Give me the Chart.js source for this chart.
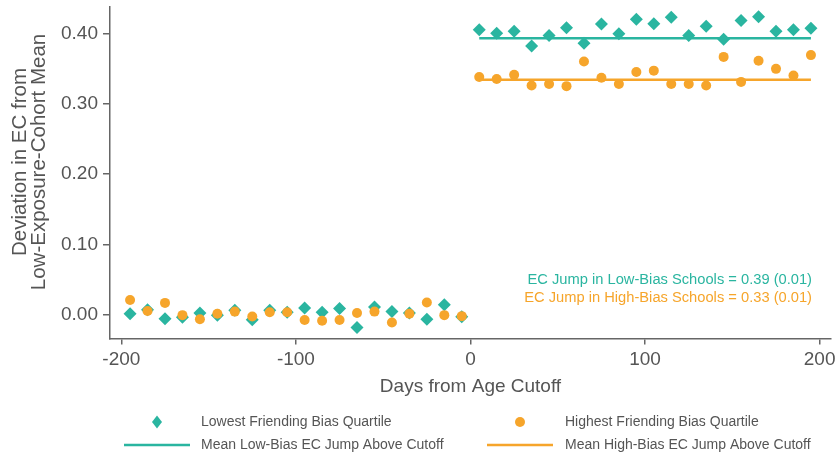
<!DOCTYPE html>
<html>
<head>
<meta charset="utf-8">
<script src="https://cdn.jsdelivr.net/npm/chart.js@4"></script>
<style>
  html, body { margin: 0; padding: 0; background: #fff; }
  #wrap { width: 839px; height: 457px; }
</style>
</head>
<body>
<div id="wrap"><canvas id="myChart"></canvas></div>
<script>
const CHART = document.getElementById("myChart");

// days from cutoff (bins of 10 days)
const daysBelow = [-195,-185,-175,-165,-155,-145,-135,-125,-115,-105,-95,-85,-75,-65,-55,-45,-35,-25,-15,-5];
const daysAbove = [5,15,25,35,45,55,65,75,85,95,105,115,125,135,145,155,165,175,185,195];

// lowest friending bias quartile
const lowBelow = [0.002,0.0075,-0.005,-0.003,0.003,0.000,0.007,-0.0066,0.007,0.004,0.0103,0.004,0.0094,-0.0175,0.0117,0.005,0.003,-0.006,0.0146,-0.0024];
const lowAbove = [0.405,0.400,0.403,0.382,0.397,0.408,0.386,0.413,0.3995,0.420,0.4136,0.4226,0.397,0.410,0.3915,0.418,0.4235,0.403,0.405,0.407];

// highest friending bias quartile
const highBelow = [0.0216,0.006,0.0174,0.000,-0.0057,0.002,0.005,-0.002,0.004,0.004,-0.007,-0.008,-0.007,0.003,0.005,-0.0105,0.002,0.018,0.000,-0.0014];
const highAbove = [0.338,0.335,0.341,0.326,0.328,0.325,0.360,0.337,0.328,0.345,0.347,0.328,0.328,0.326,0.3665,0.331,0.361,0.3495,0.340,0.369];

// mean jump lines above the cutoff
const meanX = [5,195];
const lowMean = [0.393,0.393];
const highMean = [0.334,0.334];

const xTicks = [-200,-100,0,100,200];
const yTicks = [0,0.1,0.2,0.3,0.4];

const labels = ['Lowest Friending Bias Quartile','Highest Friending Bias Quartile',
                'Mean Low-Bias EC Jump Above Cutoff','Mean High-Bias EC Jump Above Cutoff'];
const notes = ['EC Jump in Low-Bias Schools = 0.39 (0.01)','EC Jump in High-Bias Schools = 0.33 (0.01)'];

const TEAL = '#2ab5a0';
const ORANGE = '#f6a52b';
const TXT = '#555555';
const FONT = "'Liberation Sans', Arial, Helvetica, sans-serif";

function pts(xs, ys){ return xs.map((x,i)=>({x:x, y:ys[i]})); }

// legend, y title and jump notes
const extras = {
  id: 'extras',
  afterDraw(chart){
    const ctx = chart.ctx;
    ctx.save();
    // y title
    ctx.fillStyle = TXT;
    ctx.font = "20.5px " + FONT;
    ctx.textAlign = 'center';
    ctx.textBaseline = 'middle';
    ctx.translate(30, 162);
    ctx.rotate(-Math.PI/2);
    ctx.fillText('Deviation in EC from', 0, -10);
    ctx.fillText('Low-Exposure-Cohort Mean', 0, 9.5);
    ctx.restore();

    // notes
    ctx.save();
    ctx.font = "14.7px " + FONT;
    ctx.textAlign = 'right';
    ctx.textBaseline = 'middle';
    ctx.fillStyle = TEAL;
    ctx.fillText(notes[0], 812, 280);
    ctx.fillStyle = ORANGE;
    ctx.fillText(notes[1], 812, 298);
    ctx.restore();

    // legend
    ctx.save();
    ctx.font = "14px " + FONT;
    ctx.textAlign = 'left';
    ctx.textBaseline = 'middle';
    const marks = [157, 520];
    const textX = [201, 565];
    const rows = [422, 445];
    // diamond
    ctx.fillStyle = TEAL;
    ctx.beginPath();
    ctx.moveTo(marks[0], rows[0]-6.5); ctx.lineTo(marks[0]+5, rows[0]);
    ctx.lineTo(marks[0], rows[0]+6.5); ctx.lineTo(marks[0]-5, rows[0]);
    ctx.closePath(); ctx.fill();
    // circle
    ctx.fillStyle = ORANGE;
    ctx.beginPath(); ctx.arc(marks[1], rows[0], 5, 0, Math.PI*2); ctx.fill();
    // lines
    ctx.lineWidth = 2.5;
    ctx.strokeStyle = TEAL;
    ctx.beginPath(); ctx.moveTo(marks[0]-33, rows[1]); ctx.lineTo(marks[0]+33, rows[1]); ctx.stroke();
    ctx.strokeStyle = ORANGE;
    ctx.beginPath(); ctx.moveTo(marks[1]-33, rows[1]); ctx.lineTo(marks[1]+33, rows[1]); ctx.stroke();
    ctx.fillStyle = TXT;
    ctx.fillText(labels[0], textX[0], rows[0]);
    ctx.fillText(labels[1], textX[1], rows[0]);
    ctx.fillText(labels[2], textX[0], rows[1]);
    ctx.fillText(labels[3], textX[1], rows[1]);
    ctx.restore();
  }
};

let chart = new Chart(CHART, {
  type: 'scatter',
  data: {
    datasets: [
      {
        label: labels[1],
        data: pts(daysBelow, highBelow).concat(pts(daysAbove, highAbove)),
        pointStyle: 'circle',
        pointRadius: 5,
        pointHoverRadius: 5,
        backgroundColor: ORANGE,
        borderWidth: 0,
        order: 2
      },
      {
        label: labels[0],
        data: pts(daysBelow, lowBelow).concat(pts(daysAbove, lowAbove)),
        pointStyle: 'rectRot',
        pointRadius: 6.5,
        pointHoverRadius: 6.5,
        backgroundColor: TEAL,
        borderWidth: 0,
        order: 4
      },
      {
        label: labels[2],
        data: pts(meanX, lowMean),
        showLine: true,
        pointRadius: 0,
        borderColor: TEAL,
        borderWidth: 2.5,
        order: 3
      },
      {
        label: labels[3],
        data: pts(meanX, highMean),
        showLine: true,
        pointRadius: 0,
        borderColor: ORANGE,
        borderWidth: 2.5,
        order: 1
      }
    ]
  },
  options: {
    responsive: true,
    maintainAspectRatio: false,
    animation: false,
    layout: { padding: { left: 0, right: 8, top: 4, bottom: 59 } },
    plugins: { legend: { display: false }, tooltip: { enabled: false } },
    scales: {
      x: {
        type: 'linear',
        min: -206.5,
        max: 206.5,
        border: { display: true, color: '#666', width: 1.5 },
        grid: { drawOnChartArea: false, drawTicks: true, tickLength: 6, tickColor: '#666', lineWidth: 1.5 },
        afterBuildTicks(scale){ scale.ticks = xTicks.map(v => ({value: v})); },
        afterFit(scale){ scale.paddingLeft = 0; scale.paddingRight = 0; },
        ticks: {
          padding: 4,
          color: TXT,
          font: { family: FONT, size: 19 },
          callback: v => String(v)
        },
        title: {
          display: true,
          text: 'Days from Age Cutoff',
          color: TXT,
          font: { family: FONT, size: 19 },
          padding: { top: 0, bottom: 0 }
        }
      },
      y: {
        type: 'linear',
        min: -0.033,
        max: 0.438,
        afterFit(scale){ scale.width = 110; scale.paddingTop = 0; scale.paddingBottom = 0; },
        border: { display: true, color: '#666', width: 1.5 },
        grid: { drawOnChartArea: false, drawTicks: true, tickLength: 7, tickColor: '#666', lineWidth: 1.5 },
        afterBuildTicks(scale){ scale.ticks = yTicks.map(v => ({value: v})); },
        ticks: {
          padding: 5,
          color: TXT,
          font: { family: FONT, size: 19 },
          callback: v => Number(v).toFixed(2)
        }
      }
    }
  },
  plugins: [extras]
});
</script>
</body>
</html>
